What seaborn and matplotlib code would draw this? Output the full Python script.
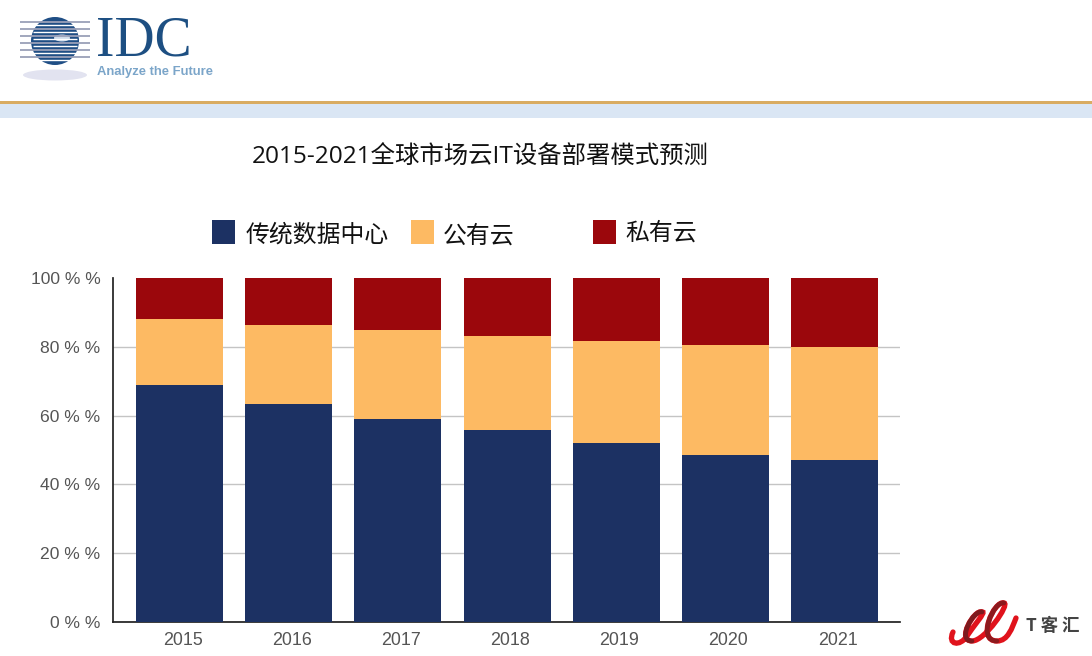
import matplotlib
matplotlib.use('Agg')
import matplotlib.pyplot as plt
from matplotlib.patches import Circle, Ellipse, PathPatch, Rectangle
from matplotlib.path import Path
from matplotlib.transforms import ScaledTranslation
import numpy as np
import seaborn as sb

# Dados
years = ['2015', '2016', '2017', '2018', '2019', '2020', '2021']
traditional = [68.9, 63.4, 59.0, 55.8, 52.0, 48.5, 47.1]
public_cloud = [19.2, 22.9, 25.9, 27.3, 29.7, 32.0, 32.7]
private_cloud = [11.9, 13.7, 15.1, 16.9, 18.3, 19.5, 20.2]
y_ticks = [0, 20, 40, 60, 80, 100]
y_labels = ['0 % %', '20 % %', '40 % %', '60 % %', '80 % %', '100 % %']
legend_names = ['传统数据中心', '公有云', '私有云']
title = '2015-2021全球市场云IT设备部署模式预测'

navy = '#1c3163'
orange = '#fdba63'
red = '#9b070c'

sb.set_theme(style='white')
plt.rcParams['font.family'] = ['Noto Sans CJK SC', 'DejaVu Sans']

W, H = 1092, 656
fig = plt.figure(figsize=(W / 100, H / 100), dpi=100, facecolor='white')

# Eixo principal, posicionado em pixels
ax = fig.add_axes([113 / W, 1 - 622 / H, (900 - 113) / W, (622 - 278) / H])
bottom = np.zeros(len(years))
for values, color in zip([traditional, public_cloud, private_cloud], [navy, orange, red]):
    sb.barplot(x=years, y=values, bottom=bottom, color=color, saturation=1,
               width=0.797, ax=ax, zorder=3, linewidth=0)
    bottom = bottom + np.array(values)

ax.set_xlim(-0.609, 6.598)
ax.set_ylim(0, 100)
ax.set_yticks(y_ticks)
ax.set_yticklabels(y_labels, family='Liberation Sans', fontsize=12.6, color='#555555')
ax.tick_params(axis='x', length=0, pad=7)
ax.tick_params(axis='y', length=0, pad=9)
# Os rotulos de x ficam 3 px a direita no original
shift = ScaledTranslation(3 / 100, 0, fig.dpi_scale_trans)
for lab in ax.get_xticklabels():
    lab.set_family('Liberation Sans')
    lab.set_fontsize(12.9)
    lab.set_color('#555555')
    lab.set_transform(lab.get_transform() + shift)
ax.grid(axis='y', color='#c4c4c4', linewidth=1.0, zorder=0)
ax.yaxis.get_gridlines()[-1].set_visible(False)
ax.set_axisbelow(True)
ax.spines['top'].set_visible(False)
ax.spines['right'].set_visible(False)
ax.spines['left'].set_color('#222222')
ax.spines['bottom'].set_color('#222222')

# Camada em pixels para cabecalho, legenda e logos
over = fig.add_axes([0, 0, 1, 1], zorder=5)
over.set_xlim(0, W)
over.set_ylim(H, 0)
over.axis('off')

over.add_patch(Rectangle((0, 101), W, 3, color='#d9ac62', lw=0))
over.add_patch(Rectangle((0, 104), W, 14, color='#dae6f4', lw=0))

over.text(480, 158, title, ha='center', va='center', fontsize=17.55, color='#111111',
          family=['Open Sans', 'Noto Sans CJK SC'])

# Legenda
for x0, ty, name, tx, color in zip([212, 411, 593], [235, 236, 233], legend_names,
                                   [246, 443, 625], [navy, orange, red]):
    over.add_patch(Rectangle((x0, 220), 23, 24, color=color, lw=0))
    over.text(tx, ty, name, ha='left', va='center', fontsize=17.2, color='#111111')

# Logo IDC
over.add_patch(Ellipse((55, 75), 64, 11, color='#e2e3f0', lw=0))
over.add_patch(Circle((55, 41), 24, color='#1f4e85', lw=0))
for yy in [22, 29, 36, 43, 50, 57]:
    over.plot([20, 90], [yy, yy], color='#9aa0b8', lw=1.3, solid_capstyle='butt')
    over.plot([33, 77], [yy + 3, yy + 3], color='white', lw=1.0, solid_capstyle='butt')
over.add_patch(Ellipse((62, 38), 16, 7, color='#cfdcea', lw=0))
over.text(96, 42, 'IDC', family='Liberation Serif', fontsize=40, color='#1d4f82',
          ha='left', va='center')
over.text(97, 72, 'Analyze the Future', family='Liberation Sans', fontsize=9.4,
          color='#7ba5c9', ha='left', va='center', fontweight='bold')

# Logo T客汇: fita vermelha desenhada com curvas
ribbon = [(953, 632), (947, 645), (960, 647), (967, 636),
          (972, 628), (987, 611), (982, 612),
          (974, 609), (956, 641), (972, 641),
          (985, 641), (1010, 604), (1004, 603),
          (994, 600), (976, 641), (997, 641),
          (1008, 641), (1012, 628), (1016, 618)]
codes = [Path.MOVETO] + [Path.CURVE4] * (len(ribbon) - 1)
over.add_patch(PathPatch(Path(ribbon, codes), fc='none', ec='#e0131c', lw=3.8, capstyle='round'))
dark = [(982, 612), (974, 609), (956, 641), (972, 641)]
over.add_patch(PathPatch(Path(dark, [Path.MOVETO] + [Path.CURVE4] * 3), fc='none',
                         ec='#7d1a1e', lw=3.4, capstyle='round'))
dark = [(1004, 603), (994, 600), (976, 641), (997, 641)]
over.add_patch(PathPatch(Path(dark, [Path.MOVETO] + [Path.CURVE4] * 3), fc='none',
                         ec='#8d1a1e', lw=3.4, capstyle='round'))
over.text(1053, 626, 'T 客 汇', fontsize=12.5, fontweight='bold', color='#444444',
          ha='center', va='center')

fig.savefig('out.png', dpi=100)
